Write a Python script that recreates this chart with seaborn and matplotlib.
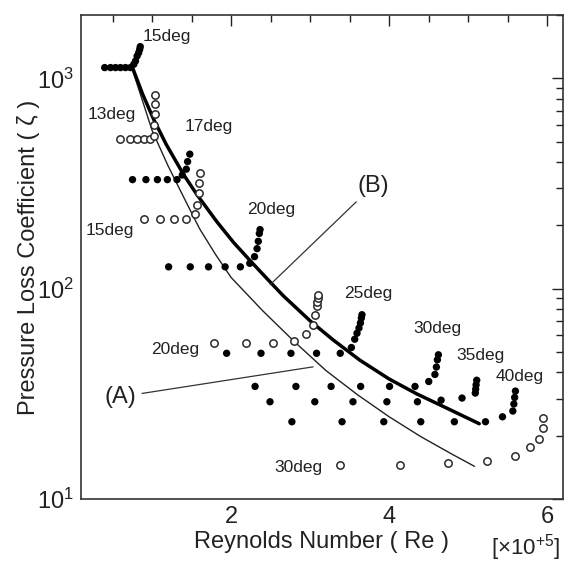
import numpy as np
import pandas as pd
import seaborn as sns
import matplotlib
matplotlib.use("Agg")
import matplotlib.pyplot as plt
from matplotlib.ticker import MultipleLocator, FixedLocator, LogLocator, NullFormatter

# ---------------- data (Re in 1e5, zeta) ----------------
# filled (black) series
f15_re = [0.40, 0.474, 0.537, 0.60, 0.663, 0.726, 0.768, 0.79, 0.81, 0.83, 0.843, 0.85]
f15_z = [1125, 1125, 1125, 1125, 1125, 1125, 1166, 1209, 1276, 1324, 1374, 1415]
f17_re = [0.752, 0.922, 1.067, 1.193, 1.315, 1.382, 1.433, 1.449, 1.477]
f17_z = [330, 330, 330, 330, 330, 347, 370, 402, 436]
f20_re = [1.209, 1.483, 1.714, 1.924, 2.117, 2.236, 2.296, 2.328, 2.344, 2.357, 2.366]
f20_z = [127, 127, 127, 127, 127, 132, 142, 155, 168, 183, 191]
f25_re = [1.943, 2.378, 2.757, 3.081, 3.381, 3.522, 3.564, 3.593, 3.618, 3.636, 3.648, 3.656]
f25_z = [49.3, 49.3, 49.3, 49.3, 49.3, 52.5, 57.5, 61.4, 65.0, 68.7, 72.5, 75.2]
f30_re = [2.303, 2.820, 3.265, 3.639, 4.005, 4.327, 4.501, 4.579, 4.598, 4.610, 4.623]
f30_z = [34.3, 34.3, 34.3, 34.3, 34.3, 34.3, 36.2, 39.1, 42.4, 45.9, 48.5]
f35_re = [2.492, 3.059, 3.542, 3.971, 4.358, 4.657, 4.922, 5.090, 5.095, 5.100, 5.108]
f35_z = [29.0, 29.0, 29.0, 29.0, 29.0, 29.5, 30.2, 31.9, 33.3, 34.9, 36.7]
f40_re = [2.769, 3.404, 3.932, 4.400, 4.825, 5.219, 5.434, 5.565, 5.578, 5.588, 5.598]
f40_z = [23.3, 23.3, 23.3, 23.3, 23.3, 23.3, 24.6, 26.2, 28.3, 30.4, 32.6]

# open series
o13_re = [0.594, 0.714, 0.808, 0.897, 0.972, 1.02, 1.029, 1.042, 1.042, 1.042]
o13_z = [515, 515, 515, 515, 515, 530, 597, 674, 752, 834]
o15_re = [0.903, 1.105, 1.281, 1.433, 1.542, 1.571, 1.593, 1.597, 1.61]
o15_z = [214, 214, 214, 214, 226, 251, 284, 319, 356]
o20_re = [1.782, 2.189, 2.530, 2.794, 2.946, 3.030, 3.066, 3.084, 3.088, 3.101, 3.101]
o20_z = [55.1, 55.1, 55.1, 56.1, 61.1, 67.4, 75.2, 82.4, 86.1, 90.3, 93.6]
o30_re = [3.375, 4.140, 4.749, 5.235, 5.594, 5.783, 5.900, 5.943, 5.943]
o30_z = [14.5, 14.5, 14.8, 15.2, 16.0, 17.6, 19.3, 21.7, 24.3]

# curves
B_re = [0.75, 0.88, 1.02, 1.18, 1.40, 1.57, 1.82, 2.03, 2.24, 2.45, 2.66, 3.0, 3.29, 3.63, 4.0, 4.35, 4.76, 5.14]
B_z = [1130, 841, 638, 484, 348, 279, 208, 166, 136, 112, 92.5, 70.3, 57.1, 45.7, 37.2, 31.6, 26.7, 22.8]
A_re = [0.74, 0.87, 1.0, 1.2, 1.4, 1.6, 1.8, 2.0, 2.4, 2.8, 3.2, 3.6, 4.0, 4.4, 4.8, 5.08]
A_z = [1130, 800, 565, 385, 272, 193, 146, 113, 78.5, 56, 40.8, 31.3, 24.6, 19.8, 16.3, 14.3]

# labels
angle_labels = ["15deg", "13deg", "17deg", "15deg", "20deg", "20deg", "25deg", "30deg", "35deg", "40deg", "30deg"]
angle_lab_re = [1.19, 0.494, 1.72, 0.468, 2.506, 1.291, 3.734, 4.608, 5.152, 5.658, 2.848]
angle_lab_z = [1585, 674, 591, 189, 238, 51.3, 94.6, 64.5, 48.0, 38.1, 14.1]

# ---------------- build frames ----------------
filled = pd.concat([
    pd.DataFrame({"Re": r, "z": z, "g": n}) for r, z, n in [
        (f15_re, f15_z, "15"), (f17_re, f17_z, "17"), (f20_re, f20_z, "20"),
        (f25_re, f25_z, "25"), (f30_re, f30_z, "30"), (f35_re, f35_z, "35"),
        (f40_re, f40_z, "40")]
])
opened = pd.concat([
    pd.DataFrame({"Re": r, "z": z, "g": n}) for r, z, n in [
        (o13_re, o13_z, "13"), (o15_re, o15_z, "15"), (o20_re, o20_z, "20"),
        (o30_re, o30_z, "30")]
])

sns.set_style("white")
plt.rcParams['font.family'] = ['Liberation Sans', 'DejaVu Sans']
plt.rcParams['mathtext.fontset'] = 'custom'
plt.rcParams['mathtext.rm'] = 'Liberation Sans'
plt.rcParams['mathtext.it'] = 'Liberation Sans:italic'
plt.rcParams['mathtext.bf'] = 'Liberation Sans:bold'

fig = plt.figure(figsize=(5.68, 5.67), dpi=100)
ax = fig.add_axes([0.1426, 0.1199, 0.8486, 0.8536])
ax.set_yscale("log")

sns.lineplot(x=A_re, y=A_z, sort=False, color="#222222", lw=1.0, ax=ax, zorder=2)
sns.lineplot(x=B_re, y=B_z, sort=False, color="black", lw=2.5, ax=ax, zorder=2)

sns.scatterplot(data=filled, x="Re", y="z", color="black", s=28, edgecolor="none",
                marker="o", ax=ax, zorder=3, legend=False)
sns.scatterplot(data=opened, x="Re", y="z", s=28, marker="o", facecolor="white",
                edgecolor="#2a2a2a", linewidth=1.1, ax=ax, zorder=3, legend=False)

for t, xr, yz in zip(angle_labels, angle_lab_re, angle_lab_z):
    ax.text(xr, yz, t, ha="center", va="center", fontsize=12.5, color="#222222")

ax.annotate("(B)", xy=(2.494, 104.5), xytext=(3.797, 309), ha="center", va="center",
            fontsize=17, color="#222222",
            arrowprops=dict(arrowstyle="-", lw=0.9, color="#333333", shrinkA=2, shrinkB=0))
ax.annotate("(A)", xy=(3.038, 42.5), xytext=(0.595, 30.6), ha="center", va="center",
            fontsize=17, color="#222222",
            arrowprops=dict(arrowstyle="-", lw=0.9, color="#333333", shrinkA=2, shrinkB=0))

ax.set_xlim(0.1, 6.2)
ax.set_ylim(10, 2000)
ax.xaxis.set_major_locator(FixedLocator([2, 4, 6]))
ax.xaxis.set_minor_locator(MultipleLocator(0.5))
ax.set_xticklabels(["2", "4", "6"])
ax.yaxis.set_major_locator(FixedLocator([10, 100, 1000]))
ax.set_yticklabels([r"$10^1$", r"$10^2$", r"$10^3$"])
ax.yaxis.set_minor_locator(LogLocator(base=10, subs=np.arange(2, 10)))
ax.yaxis.set_minor_formatter(NullFormatter())

ax.tick_params(which="both", direction="in", top=True, right=True, colors="#222222",
               labelcolor="#222222")
ax.tick_params(which="major", length=8, width=1.0, labelsize=17, pad=5)
ax.tick_params(which="minor", length=5, width=1.0)
for s in ax.spines.values():
    s.set_color("#333333")
    s.set_linewidth(1.2)

ax.set_xlabel("Reynolds Number ( Re )", fontsize=17, color="#222222", labelpad=2)
ax.set_ylabel("Pressure Loss Coefficient ( ζ )", fontsize=17, color="#222222", labelpad=-2)
fig.text(0.926, 0.034, r"[$\times$10$^{+5}$]", ha="center", va="center", fontsize=16,
         color="#222222")

fig.savefig("out.png", dpi=100)
